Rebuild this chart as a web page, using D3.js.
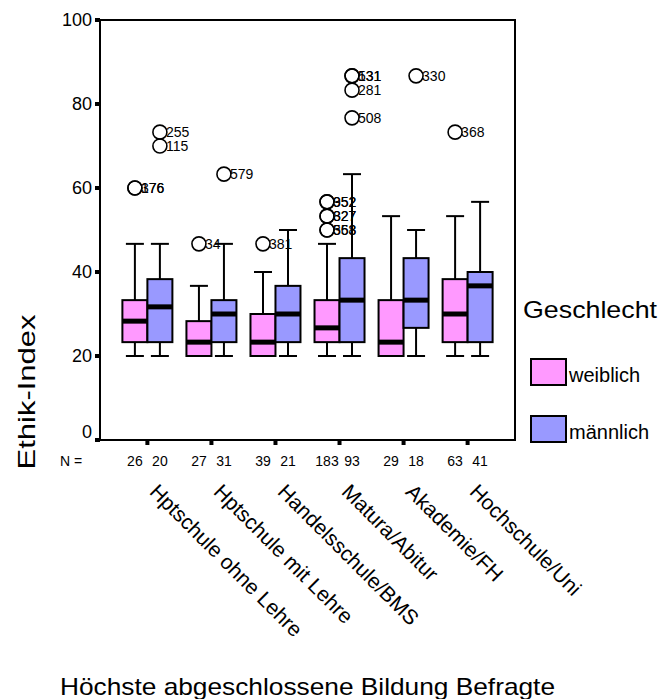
<!DOCTYPE html>
<html><head><meta charset="utf-8">
<script src="https://cdn.jsdelivr.net/npm/d3@7"></script>
<style>body{margin:0;background:#fff}svg{display:block;font-family:"Liberation Sans",Arial,sans-serif}</style>
</head><body><svg id="c" width="659" height="699"></svg>
<script>
const categories = ["Hptschule ohne Lehre","Hptschule mit Lehre","Handelsschule/BMS","Matura/Abitur","Akademie/FH","Hochschule/Uni"];
const groups = ["weiblich","männlich"];
const groupColors = ["#FF99FF","#9999FF"];
const yTicks = [0,20,40,60,80,100];
// [min, q1, median, q3, max]
const boxWeiblich = [[20,23.3,28.3,33.3,46.7],[20,20,23.3,28.3,36.7],[20,20,23.3,30,40],[20,23.3,26.7,33.3,46.7],[20,20,23.3,33.3,53.3],[20,23.3,30,38.3,53.3]];
const boxMaennlich = [[20,23.3,31.7,38.3,46.7],[20,23.3,30,33.3,46.7],[20,23.3,30,36.7,50],[20,23.3,33.3,43.3,63.3],[20,26.7,33.3,43.3,50],[20,23.3,36.7,40,56.7]];
const nWeiblich = [26,27,39,183,29,63];
const nMaennlich = [20,31,21,93,18,41];
// [category index, value, case label]
const outWeiblich = [[0,60,"376"],[0,60,"176"],[1,46.7,"34"],[2,46.7,"381"],[3,56.7,"352"],[3,56.7,"952"],[3,53.3,"327"],[3,53.3,"827"],[3,50,"368"],[3,50,"553"],[5,73.3,"368"]];
const outMaennlich = [[0,73.3,"255"],[0,70,"115"],[1,63.3,"579"],[3,86.7,"131"],[3,86.7,"531"],[3,83.3,"281"],[3,76.7,"508"],[4,86.7,"330"]];

const svg = d3.select("#c");
const L=100,R=515,T=20,B=440;
const x = d3.scaleBand().domain(categories).range([L,R]).paddingOuter(0.24).paddingInner(0);
const xs = d3.scaleBand().domain(groups).range([-25,25]);
const y = d3.scaleLinear().domain([0,100]).range([B,T]);
const boxW = xs.bandwidth(), capW = 18;

// frame
svg.append("rect").attr("x",L).attr("y",T).attr("width",R-L).attr("height",B-T).attr("fill","none").attr("stroke","#000").attr("stroke-width",2);

// y axis
const yAxis = d3.axisLeft(y).tickValues(yTicks).tickSize(0).tickPadding(8);
const ga = svg.append("g").attr("transform",`translate(${L},0)`).call(yAxis);
ga.select(".domain").remove();
ga.selectAll("text").attr("font-size",18).attr("font-family","Liberation Sans, Arial, sans-serif").attr("fill","#000")
  .attr("dy",d=>d===0?"-0.15em":"0.32em");
svg.selectAll(".yt").data(yTicks).join("rect").attr("x",L-5).attr("y",d=>y(d)-2).attr("width",5).attr("height",4).attr("fill","#000");

// x ticks
svg.selectAll(".xt").data(categories).join("rect").attr("x",d=>x(d)+x.bandwidth()/2-2).attr("y",B).attr("width",4).attr("height",5).attr("fill","#000");

const series = [
  {box:boxWeiblich, out:outWeiblich, n:nWeiblich, g:groups[0], c:groupColors[0]},
  {box:boxMaennlich, out:outMaennlich, n:nMaennlich, g:groups[1], c:groupColors[1]}
];
series.forEach(s=>{
  const cx = i => x(categories[i]) + x.bandwidth()/2 + xs(s.g) + boxW/2;
  const g = svg.append("g");
  s.box.forEach((b,i)=>{
    const c = cx(i);
    g.append("line").attr("x1",c).attr("x2",c).attr("y1",y(b[0])).attr("y2",y(b[1])).attr("stroke","#000").attr("stroke-width",2);
    g.append("line").attr("x1",c).attr("x2",c).attr("y1",y(b[3])).attr("y2",y(b[4])).attr("stroke","#000").attr("stroke-width",2);
    g.append("line").attr("x1",c-capW/2).attr("x2",c+capW/2).attr("y1",y(b[0])).attr("y2",y(b[0])).attr("stroke","#000").attr("stroke-width",2);
    g.append("line").attr("x1",c-capW/2).attr("x2",c+capW/2).attr("y1",y(b[4])).attr("y2",y(b[4])).attr("stroke","#000").attr("stroke-width",2);
    g.append("rect").attr("x",c-boxW/2).attr("y",y(b[3])).attr("width",boxW).attr("height",y(b[1])-y(b[3])).attr("fill",s.c).attr("stroke","#000").attr("stroke-width",2);
    g.append("line").attr("x1",c-boxW/2).attr("x2",c+boxW/2).attr("y1",y(b[2])).attr("y2",y(b[2])).attr("stroke","#000").attr("stroke-width",5);
  });
  s.out.forEach(o=>{
    const c = cx(o[0]);
    g.append("circle").attr("cx",c).attr("cy",y(o[1])).attr("r",7).attr("fill","none").attr("stroke","#000").attr("stroke-width",1.6);
    g.append("text").attr("x",c+6).attr("y",y(o[1])+5).attr("font-size",14).attr("fill","#000").text(o[2]);
  });
  s.n.forEach((n,i)=>{
    svg.append("text").attr("x",cx(i)).attr("y",466).attr("text-anchor","middle").attr("font-size",14).text(n);
  });
});
svg.append("text").attr("x",60).attr("y",466).attr("font-size",14).text("N =");

// category labels
svg.selectAll(".xl").data(categories).join("text")
  .attr("transform",d=>`translate(${x(d)+x.bandwidth()/2+1},493) rotate(45)`)
  .attr("font-size",21).text(d=>d);

// axis titles
svg.append("text").attr("transform","translate(35,392) rotate(-90)").attr("text-anchor","middle").attr("font-size",24)
  .attr("textLength",155).attr("lengthAdjust","spacingAndGlyphs").text("Ethik-Index");
svg.append("text").attr("x",60).attr("y",695).attr("font-size",24)
  .attr("textLength",495).attr("lengthAdjust","spacingAndGlyphs").text("Höchste abgeschlossene Bildung Befragte");

// legend
svg.append("text").attr("x",523).attr("y",318).attr("font-size",24)
  .attr("textLength",134).attr("lengthAdjust","spacingAndGlyphs").text("Geschlecht");
groups.forEach((g,i)=>{
  svg.append("rect").attr("x",531).attr("y",359+i*57).attr("width",35).attr("height",26).attr("fill",groupColors[i]).attr("stroke","#000").attr("stroke-width",2);
  svg.append("text").attr("x",569).attr("y",382+i*57).attr("font-size",20).text(g);
});
</script></body></html>
